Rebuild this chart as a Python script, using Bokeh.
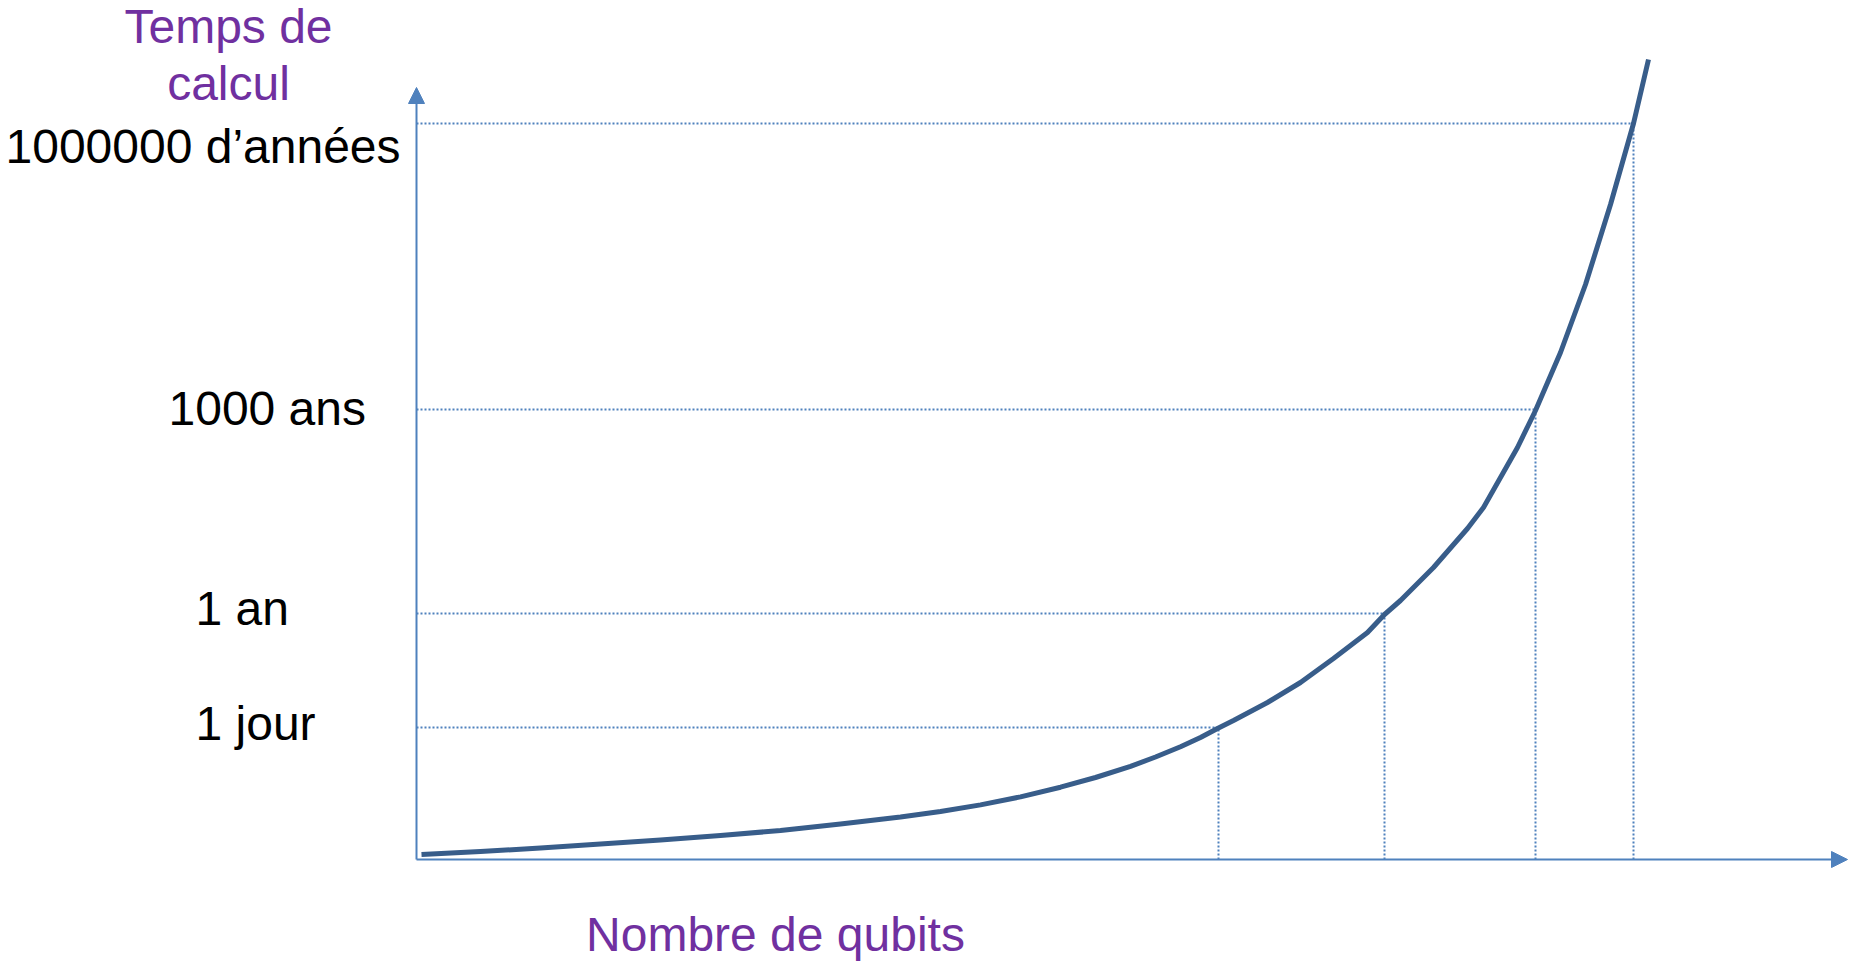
from bokeh.plotting import figure
from bokeh.models import ColumnDataSource, Range1d, Arrow, NormalHead
from bokeh.core.properties import value
from bokeh.embed import file_html
from bokeh.resources import INLINE

# ---------------- data (schematic units) ----------------
qubits = [0.5, 6.4, 12.4, 18.4, 24.4, 30.4, 36.4, 42.4, 48.4, 52.4, 56.4,
          60.4, 64.4, 67.9, 71.4, 73.9, 76.4, 78.4, 80.1, 81.7, 85.1, 88.4,
          91.7, 95.1, 96.8, 98.4, 101.7, 105.1, 106.7, 108.4, 110.1, 111.9,
          114.4, 116.9, 119.4, 121.7, 123.2]
temps = [0.5, 0.8, 1.15, 1.55, 1.95, 2.4, 2.9, 3.55, 4.24, 4.8, 5.46,
         6.26, 7.23, 8.2, 9.32, 10.25, 11.28, 12.2, 13.1, 13.9, 15.7, 17.7,
         20.1, 22.7, 24.5, 25.9, 29.2, 33.1, 35.2, 38.2, 41.2, 44.9,
         50.7, 57.5, 65.5, 73.6, 80.0]

level_labels = ["1 jour", "1 an", "1000 ans", "1000000 d\u2019ann\u00e9es"]
level_temps = [13.2, 24.6, 45.0, 73.6]
level_qubits = [80.2, 96.8, 111.9, 121.7]

x_title = "Nombre de qubits"
y_title = ["Temps de", "calcul"]

# ---------------- layout / style ----------------
TEXT_SHIFT = 1.75          # compensates the renderer's baseline placement
label_x = [-22.1, -22.1, -24.8, -41.1]
label_drop = [1.3, 1.2, 1.6, 4.0]
y_title_x = -18.8
y_title_y = [81.6, 75.9]
x_title_x = 35.9
x_title_y = -9.2
x_axis_end = 143.1
y_axis_end = 77.2

AXIS = "#4F81BD"
CURVE = "#385D8A"
PURPLE = "#7030A0"
FONT = value("Liberation Sans")
FSIZE = value("48px")

p = figure(width=1850, height=961,
           x_range=Range1d(-41.6, 143.4), y_range=Range1d(-10.2, 85.9),
           x_axis_type=None, y_axis_type=None,
           toolbar_location=None, output_backend="svg",
           min_border=0, outline_line_color=None,
           background_fill_color="white", border_fill_color="white")

# dotted reference lines
n = len(level_temps)
p.segment(x0=[0] * n, y0=level_temps, x1=level_qubits, y1=level_temps,
          line_color=AXIS, line_width=2, line_dash="2 2")
p.segment(x0=level_qubits, y0=[0] * n, x1=level_qubits, y1=level_temps,
          line_color=AXIS, line_width=2, line_dash="2 2")

# axes with arrow heads
for xe, ye in [(x_axis_end, 0), (0, y_axis_end)]:
    p.add_layout(Arrow(end=NormalHead(size=16, fill_color=AXIS, line_color=AXIS),
                       x_start=0, y_start=0, x_end=xe, y_end=ye,
                       line_color=AXIS, line_width=2))

# curve
p.line(qubits, temps, line_color=CURVE, line_width=5, line_join="round")

# level labels
lab_src = ColumnDataSource(dict(
    x=label_x,
    y=[t - d + TEXT_SHIFT for t, d in zip(level_temps, label_drop)],
    text=level_labels))
p.text(x="x", y="y", text="text", source=lab_src, text_font=FONT,
       text_font_size=FSIZE, text_color="black",
       text_align="left", text_baseline="alphabetic")

# axis titles
p.text(x=[y_title_x, y_title_x], y=[v + TEXT_SHIFT for v in y_title_y],
       text=y_title, text_font=FONT, text_font_size=FSIZE, text_color=PURPLE,
       text_align="center", text_baseline="alphabetic")
p.text(x=[x_title_x], y=[x_title_y + TEXT_SHIFT], text=[x_title],
       text_font=FONT, text_font_size=FSIZE, text_color=PURPLE,
       text_align="center", text_baseline="alphabetic")

open("out.html", "w").write(file_html(p, INLINE))
